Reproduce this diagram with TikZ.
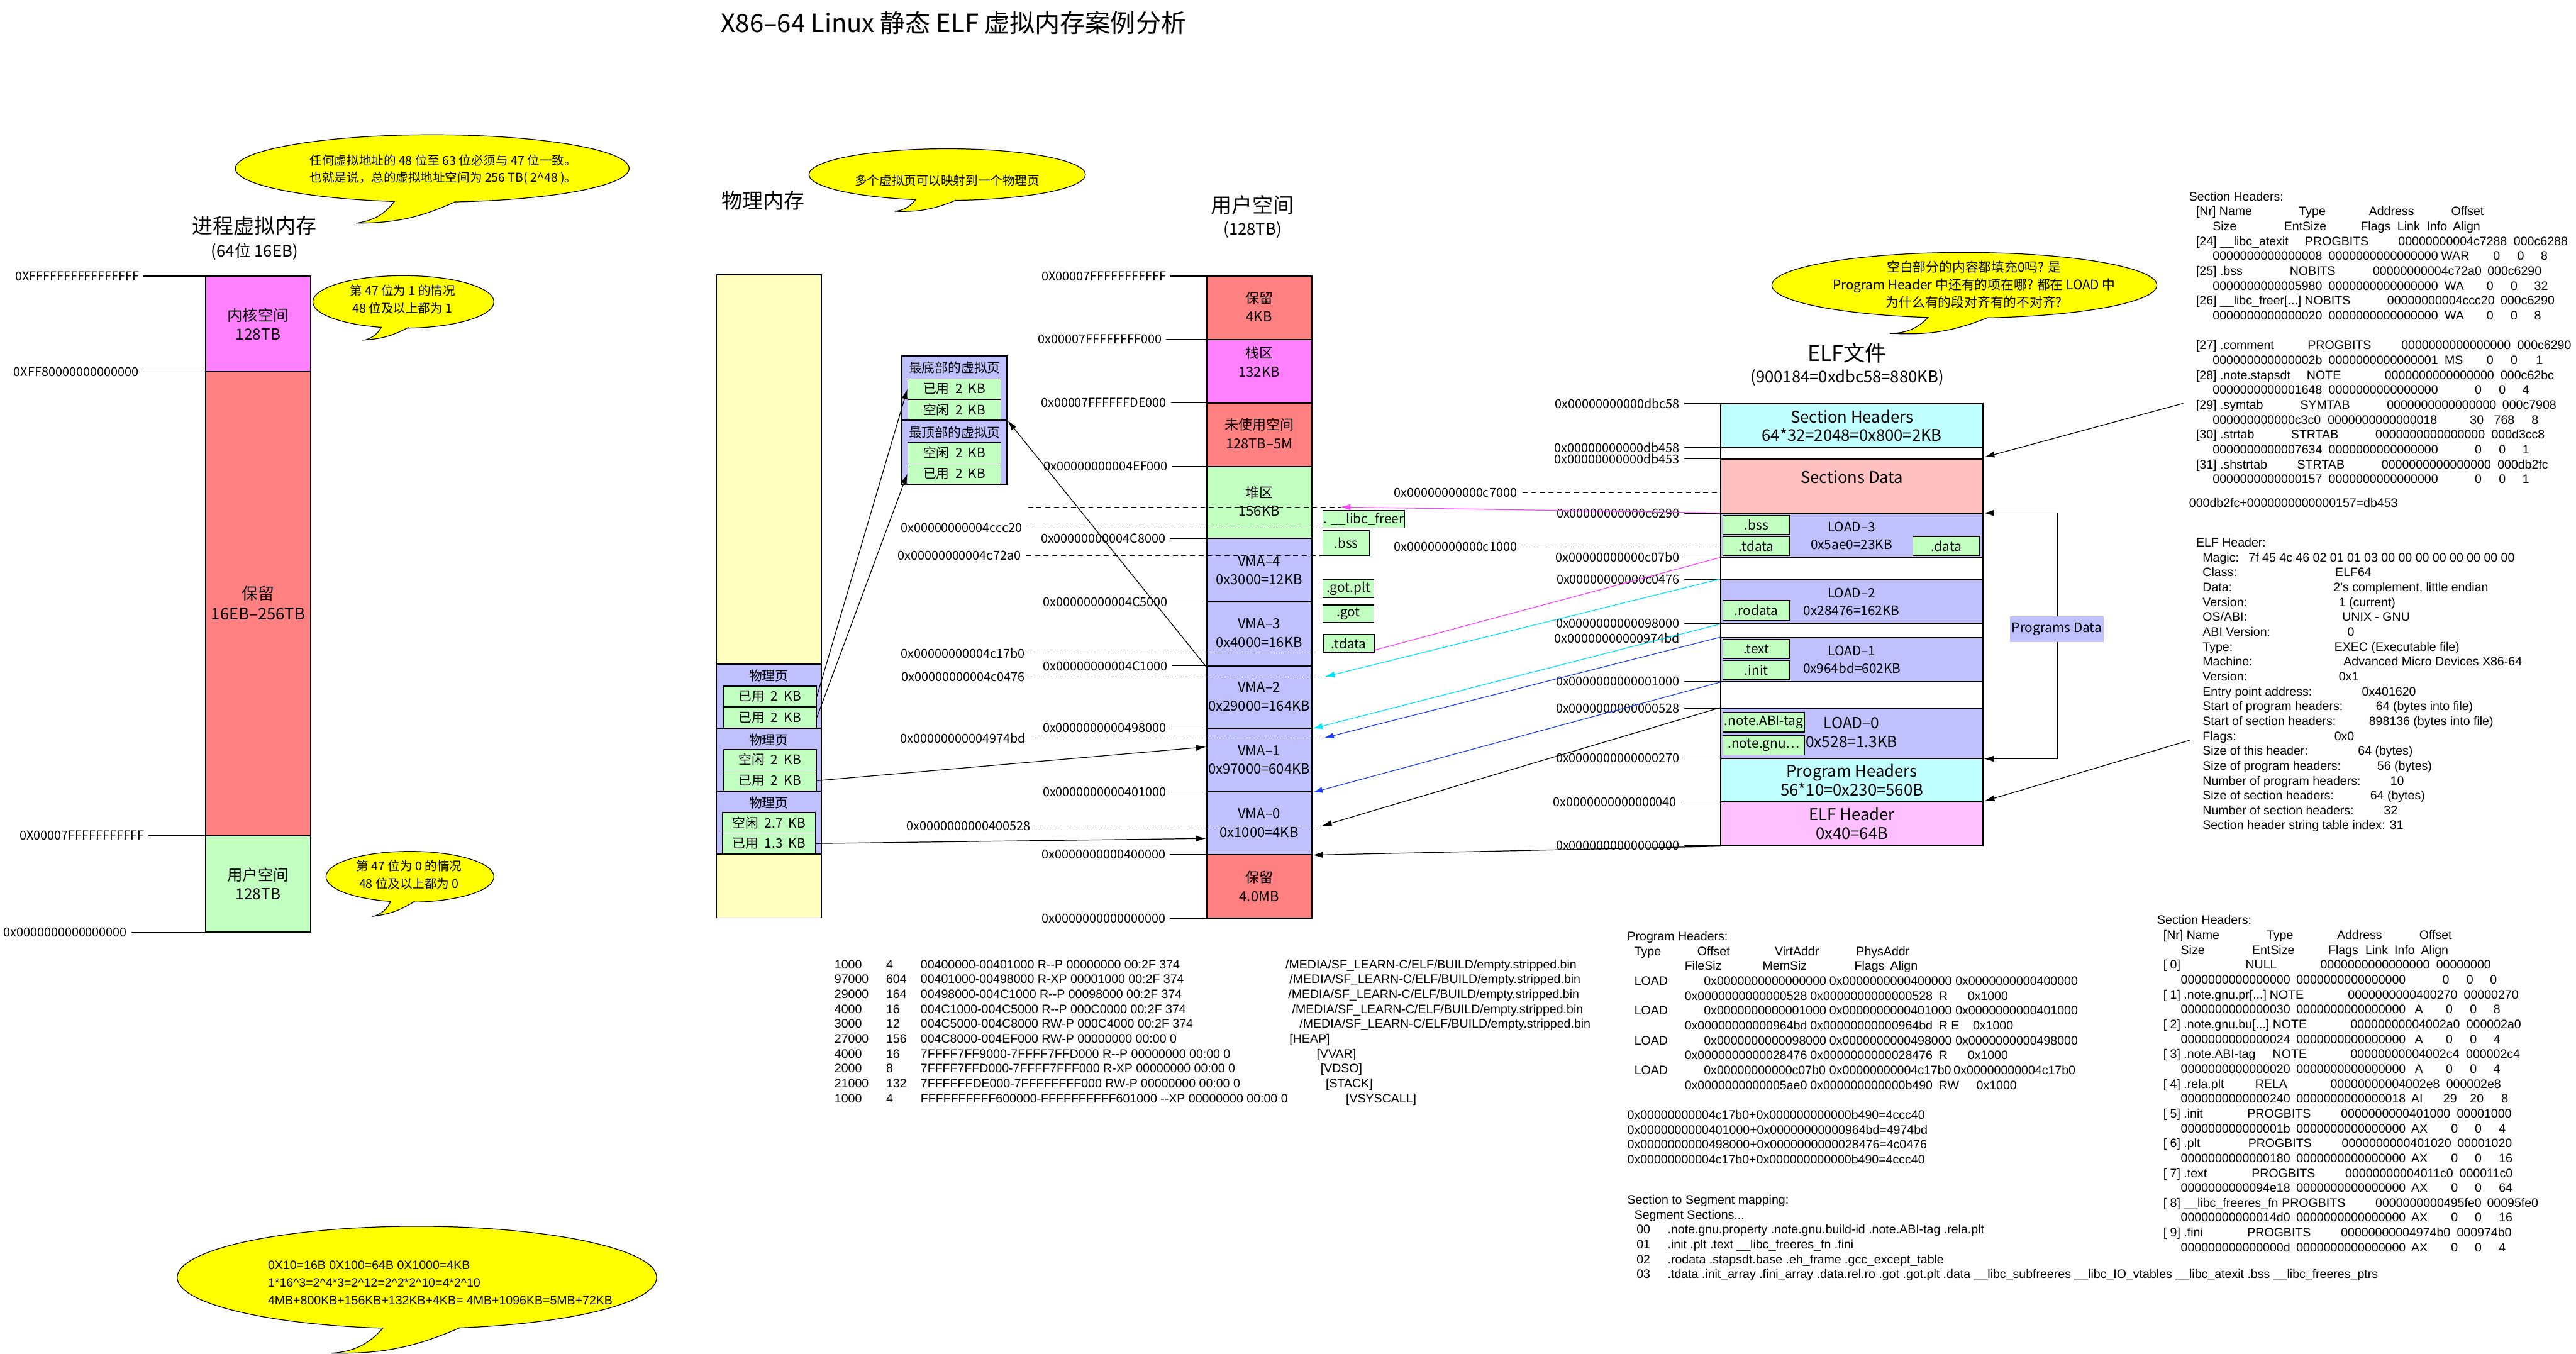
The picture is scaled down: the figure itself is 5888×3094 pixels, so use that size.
\documentclass[tikz,border=0pt]{standalone}
\usepackage{fontspec}
\setmainfont{Noto Sans CJK SC}
\newfontfamily\lib{Liberation Sans}
\usetikzlibrary{arrows.meta,calc}
\newlength\pxu
\setlength\pxu{0.1mm}
\newcommand\atx[2]{\rlap{\hspace*{#1\pxu}#2}}
\newcommand\pln[1]{\hbox{#1}}
\newcommand\fsz[2]{\fontsize{#1}{#2}\selectfont}
\definecolor{cRed}{HTML}{FF8080}
\definecolor{cMag}{HTML}{FF80FF}
\definecolor{cGrn}{HTML}{C0FFC0}
\definecolor{cLav}{HTML}{C0C0FF}
\definecolor{cYel}{HTML}{FFFFC0}
\definecolor{cCyan}{HTML}{C0FFFF}
\definecolor{cPink}{HTML}{FFC0C0}
\definecolor{cPinkM}{HTML}{FFC0FF}
\definecolor{lMag}{HTML}{FF3FFF}
\definecolor{lCyan}{HTML}{00E5FF}
\definecolor{lBlue}{HTML}{1F3FFF}
\definecolor{bubY}{HTML}{FFFF00}
\tikzset{
 box/.style={draw=black, line width=0.8pt},
 sbox/.style={draw=black, line width=0.6pt, fill=cGrn},
 tick/.style={draw=black, line width=0.5pt},
 dsh/.style={draw=black, line width=0.5pt, dash pattern=on 3.2pt off 2.4pt},
 arr/.style={line width=0.5pt, -{Latex[length=6.5pt,width=4pt]}},
 bub/.style={draw=black, line width=0.5pt, fill=bubY},
 alab/.style={anchor=east, inner sep=0pt, font=\fsz{8.1}{10}},
 lab/.style={inner sep=0pt, font=\fsz{8.5}{10}},
 two/.style={inner sep=0pt, align=center, font=\fsz{9}{12}},
}
\newcommand\mkblk[6]{\node[#6, inner sep=0pt, minimum width={(#4-#2)*\pxu}, minimum height={(#5-#3)*\pxu}] (#1) at ({(#2+#4)/2},{(#3+#5)/2}) {};}
\newcommand\mkaddr[5]{\node[alab] (#1) at (#2,#3) {#4};\coordinate (#1e) at (#5,#3);\draw[tick] ([xshift=9\pxu]#1.east) -- (#1e);}
\newcommand\mkdaddr[5]{\node[alab] (#1) at (#2,#3) {#4};\coordinate (#1e) at (#5,#3);\draw[dsh] ([xshift=12\pxu]#1.east) -- (#1e);}
\newcommand\mkbub[6]{%
 \path[bub] #1 ellipse [x radius=#2\pxu, y radius=#3\pxu];
 \fill[bubY] #4 to[bend left=22] #5 to[bend right=12] #6 -- ($#4!0.5!#6+(0,-25)$) -- cycle;
 \draw[line width=0.5pt] #4 to[bend left=22] #5 to[bend right=12] #6;}
\newcommand\mkpanel[4]{\node[anchor=base west, inner sep=0pt] (#1) at (#2,#3) {\begin{minipage}[t]{20pt}\lib\fontsize{8}{9.68}\selectfont\baselineskip=34\pxu\relax #4\end{minipage}};}
\begin{document}
\begin{tikzpicture}[x=0.1mm,y=-0.1mm,font=\fsz{8.5}{10}]
\useasboundingbox (0,0) rectangle (5888,3094);
\fill[white] (0,0) rectangle (5888,3094);

% ---------- title ----------
\node[font=\fsz{16.4}{19}] (title) at (2180,52) {X86–64 Linux 静态 ELF 虚拟内存案例分析};

% ---------- bubbles ----------
\mkbub{(988,385)}{450}{77}{(902,460)}{(814,510)}{(1041,461)}
\node[anchor=west, align=left, font=\fsz{8}{11.1}] (b1t) at (696,388) {任何虚拟地址的 48 位至 63 位必须与 47 位一致。\\也就是说，总的虚拟地址空间为 256 TB( 2\textasciicircum48 )。};
\mkbub{(922,690)}{207}{60}{(872,747)}{(835,777)}{(934,748)}
\node[two, font=\fsz{8}{11.4}] (b2t) at (920,684) {第 47 位为 1 的情况\\48 位及以上都为 1};
\mkbub{(937,2004)}{192}{58}{(893,2060)}{(856,2094)}{(948,2060)}
\node[two, font=\fsz{8}{11.4}] (b3t) at (935,1999) {第 47 位为 0 的情况\\48 位及以上都为 0};
\mkbub{(2165,399)}{316}{59}{(2093,456)}{(2045,483)}{(2184,458)}
\node[lab, font=\fsz{8}{10}] (b4t) at (2165,413) {多个虚拟页可以映射到一个物理页};
\mkbub{(4490,652)}{440}{75}{(4408,725)}{(4320,762)}{(4544,726)}
\node[two, font=\fsz{8.5}{11.4}] (b5t) at (4512,651) {空白部分的内容都填充0吗? 是\\Program Header 中还有的项在哪? 都在 LOAD 中\\为什么有的段对齐有的不对齐?};
\mkbub{(953,2920)}{548}{117}{(875,3036)}{(758,3093)}{(1051,3035)}
\node[anchor=west, align=left, font=\lib\fsz{8}{11.4}] (b6t) at (600,2932) {0X10=16B 0X100=64B 0X1000=4KB\\1*16\textasciicircum3=2\textasciicircum4*3=2\textasciicircum12=2\textasciicircum2*2\textasciicircum10=4*2\textasciicircum10\\4MB+800KB+156KB+132KB+4KB= 4MB+1096KB=5MB+72KB};

% ---------- process virtual memory ----------
\node[font=\fsz{13.5}{16}] (t1) at (582,516) {进程虚拟内存};
\node[font=\fsz{10.5}{12}] (t1s) at (582,575) {(64位 16EB)};
\mkblk{kern}{470}{631}{710}{850}{box,fill=cMag}
\mkblk{resv}{470}{850}{710}{1910}{box,fill=cRed}
\mkblk{usrsp}{470}{1910}{710}{2131}{box,fill=cGrn}
\node[two, font=\fsz{10}{12.5}] (kernt) at (590,741) {内核空间\\128TB};
\node[two, font=\fsz{10.5}{13}] (resvt) at (590,1378) {保留\\16EB–256TB};
\node[two, font=\fsz{10}{12.5}] (usrt) at (590,2020) {用户空间\\128TB};
\mkaddr{la1}{319}{631}{0XFFFFFFFFFFFFFFFF}{470}
\mkaddr{la2}{317}{850}{0XFF80000000000000}{470}
\mkaddr{la3}{330}{1910}{0X00007FFFFFFFFFFF}{470}
\mkaddr{la4}{291}{2131}{0x0000000000000000}{470}

% ---------- physical memory ----------
\node[font=\fsz{13.5}{16}] (t2) at (1745,458) {物理内存};
\mkblk{phys}{1638}{628}{1878}{2098}{box,fill=cYel}
\mkblk{pa}{1637}{1518}{1877}{1664}{box,fill=cLav}
\mkblk{pa1}{1654}{1568}{1866}{1616}{sbox}
\mkblk{pa2}{1654}{1616}{1866}{1664}{sbox}
\mkblk{pb}{1637}{1664}{1877}{1809}{box,fill=cLav}
\mkblk{pb1}{1654}{1713}{1866}{1760}{sbox}
\mkblk{pb2}{1654}{1760}{1866}{1809}{sbox}
\mkblk{pc}{1637}{1809}{1877}{1952}{box,fill=cLav}
\mkblk{pc1}{1652}{1857}{1864}{1904}{sbox}
\mkblk{pc2}{1652}{1904}{1864}{1952}{sbox}
\node[lab] (pah) at (1757,1545) {物理页};
\node[lab] (pbh) at (1757,1691) {物理页};
\node[lab] (pch) at (1757,1835) {物理页};
\node[lab] (pa1t) at (pa1) {已用 \ 2 \ KB};
\node[lab] (pa2t) at (pa2) {已用 \ 2 \ KB};
\node[lab] (pb1t) at (pb1) {空闲 \ 2 \ KB};
\node[lab] (pb2t) at (pb2) {已用 \ 2 \ KB};
\node[lab] (pc1t) at (pc1) {空闲 \ 2.7 \ KB};
\node[lab] (pc2t) at (pc2) {已用 \ 1.3 \ KB};

% ---------- virtual pages block ----------
\mkblk{va}{2062}{814}{2302}{960}{box,fill=cLav}
\mkblk{va1}{2075}{866}{2288}{913}{sbox}
\mkblk{va2}{2075}{913}{2288}{960}{sbox}
\mkblk{vb}{2062}{960}{2302}{1107}{box,fill=cLav}
\mkblk{vb1}{2075}{1011}{2288}{1059}{sbox}
\mkblk{vb2}{2075}{1059}{2288}{1107}{sbox}
\node[lab] (vah) at (2182,841) {最底部的虚拟页};
\node[lab] (vbh) at (2182,988) {最顶部的虚拟页};
\node[lab] (va1t) at (va1) {已用 \ 2 \ KB};
\node[lab] (va2t) at (va2) {空闲 \ 2 \ KB};
\node[lab] (vb1t) at (vb1) {空闲 \ 2 \ KB};
\node[lab] (vb2t) at (vb2) {已用 \ 2 \ KB};

% ---------- user space ----------
\node[font=\fsz{13.5}{16}] (t3) at (2863,469) {用户空间};
\node[font=\fsz{10.5}{12}] (t3s) at (2863,526) {(128TB)};
\mkblk{u1}{2758}{631}{2999}{776}{box,fill=cRed}
\mkblk{u2}{2758}{776}{2999}{921}{box,fill=cMag}
\mkblk{u3}{2758}{921}{2999}{1066}{box,fill=cRed}
\mkblk{u4}{2758}{1066}{2999}{1231}{box,fill=cGrn}
\mkblk{u5}{2758}{1231}{2999}{1376}{box,fill=cLav}
\mkblk{u6}{2758}{1376}{2999}{1522}{box,fill=cLav}
\mkblk{u7}{2758}{1522}{2999}{1664}{box,fill=cLav}
\mkblk{u8}{2758}{1664}{2999}{1810}{box,fill=cLav}
\mkblk{u9}{2758}{1810}{2999}{1953}{box,fill=cLav}
\mkblk{u10}{2758}{1953}{2999}{2099}{box,fill=cRed}
\node[two] (u1t) at (2878,701) {保留\\4KB};
\node[two] (u2t) at (2878,827) {栈区\\132KB};
\node[two] (u3t) at (2878,991) {未使用空间\\128TB–5M};
\node[two] (u4t) at (2878,1146) {堆区\\156KB};
\node[two] (u5t) at (2878,1304) {VMA–4\\0x3000=12KB};
\node[two] (u6t) at (2878,1447) {VMA–3\\0x4000=16KB};
\node[two] (u7t) at (2878,1592) {VMA–2\\0x29000=164KB};
\node[two] (u8t) at (2878,1737) {VMA–1\\0x97000=604KB};
\node[two] (u9t) at (2878,1881) {VMA–0\\0x1000=4KB};
\node[two] (u10t) at (2878,2026) {保留\\4.0MB};
\mkaddr{ua1}{2666}{631}{0X00007FFFFFFFFFFF}{2758}
\mkaddr{ua2}{2656}{776}{0x00007FFFFFFFF000}{2758}
\mkaddr{ua3}{2667}{921}{0x00007FFFFFFDE000}{2758}
\mkaddr{ua4}{2670}{1066}{0x00000000004EF000}{2758}
\mkaddr{ua5}{2665}{1231}{0x00000000004C8000}{2758}
\mkaddr{ua6}{2670}{1376}{0x00000000004C5000}{2758}
\mkaddr{ua7}{2670}{1522}{0x00000000004C1000}{2758}
\mkaddr{ua8}{2667}{1664}{0x0000000000498000}{2758}
\mkaddr{ua9}{2667}{1810}{0x0000000000401000}{2758}
\mkaddr{ua10}{2665}{1953}{0x0000000000400000}{2758}
\mkaddr{ua11}{2665}{2099}{0x0000000000000000}{2758}

% ---------- ELF file ----------
\node[font=\fsz{14}{16}] (t4) at (4222,807) {ELF文件};
\node[font=\fsz{10.5}{12}] (t4s) at (4222,863) {(900184=0xdbc58=880KB)};
\mkblk{elf}{3933}{923}{4533}{1933}{box,fill=white}
\mkblk{e1}{3933}{923}{4533}{1023}{box,fill=cCyan}
\mkblk{e2}{3933}{1049}{4533}{1174}{box,fill=cPink}
\mkblk{e3}{3933}{1174}{4533}{1273}{box,fill=cLav}
\mkblk{e4}{3933}{1325}{4533}{1425}{box,fill=cLav}
\mkblk{e5}{3933}{1458}{4533}{1558}{box,fill=cLav}
\mkblk{e6}{3933}{1619}{4533}{1733}{box,fill=cLav}
\mkblk{e7}{3933}{1733}{4533}{1833}{box,fill=cCyan}
\mkblk{e8}{3933}{1833}{4533}{1933}{box,fill=cPinkM}
\node[two, font=\fsz{10.5}{12.2}] (e1t) at (4233,973) {Section Headers\\64*32=2048=0x800=2KB};
\node[lab, font=\fsz{10.5}{12}] (e2t) at (4233,1091) {Sections Data};
\node[two, font=\fsz{8.5}{11.4}] (e3t) at (4232,1224) {LOAD–3\\0x5ae0=23KB};
\node[two, font=\fsz{8.5}{11.4}] (e4t) at (4232,1375) {LOAD–2\\0x28476=162KB};
\node[two, font=\fsz{8.5}{11.4}] (e5t) at (4233,1508) {LOAD–1\\0x964bd=602KB};
\node[two, font=\fsz{10}{12.5}] (e6t) at (4232,1674) {LOAD–0\\0x528=1.3KB};
\node[two, font=\fsz{10.5}{12.2}] (e7t) at (4233,1783) {Program Headers\\56*10=0x230=560B};
\node[two, font=\fsz{10.5}{12.2}] (e8t) at (4233,1882) {ELF Header\\0x40=64B};
\mkblk{g1}{3938}{1178}{4091}{1222}{sbox}
\mkblk{g2}{3938}{1226}{4091}{1270}{sbox}
\mkblk{g3}{4372}{1226}{4525}{1270}{sbox}
\mkblk{g4}{3938}{1373}{4091}{1418}{sbox}
\mkblk{g5}{3938}{1462}{4091}{1505}{sbox}
\mkblk{g6}{3938}{1510}{4091}{1554}{sbox}
\mkblk{g7}{3938}{1629}{4125}{1673}{sbox}
\mkblk{g8}{3938}{1681}{4125}{1726}{sbox}
\node[lab] (g1t) at (g1) {.bss};
\node[lab] (g2t) at (g2) {.tdata};
\node[lab] (g3t) at (g3) {.data};
\node[lab] (g4t) at (g4) {.rodata};
\node[lab] (g5t) at (g5) {.text};
\node[lab] (g6t) at (g6) {.init};
\node[lab] (g7t) at (g7) {.note.ABI-tag};
\node[lab] (g8t) at (g8) {.note.gnu…};
\mkaddr{ea1}{3840}{923}{0x00000000000dbc58}{3933}
\mkaddr{ea2}{3840}{1023}{0x00000000000db458}{3933}
\mkaddr{ea3}{3840}{1049}{0x00000000000db453}{3933}
\mkaddr{ea4}{3840}{1174}{0x00000000000c6290}{3933}
\mkaddr{ea5}{3840}{1273}{0x00000000000c07b0}{3933}
\mkaddr{ea6}{3840}{1325}{0x00000000000c0476}{3933}
\mkaddr{ea7}{3840}{1425}{0x0000000000098000}{3933}
\mkaddr{ea8}{3840}{1458}{0x00000000000974bd}{3933}
\mkaddr{ea9}{3840}{1558}{0x0000000000001000}{3933}
\mkaddr{ea10}{3840}{1619}{0x0000000000000528}{3933}
\mkaddr{ea11}{3840}{1733}{0x0000000000000270}{3933}
\mkaddr{ea12}{3833}{1833}{0x0000000000000040}{3933}
\mkaddr{ea13}{3840}{1933}{0x0000000000000000}{3933}
\mkdaddr{ec7}{3468}{1126}{0x00000000000c7000}{3933}
\mkdaddr{ec1}{3468}{1250}{0x00000000000c1000}{3933}

% Programs Data bracket
\draw[line width=0.6pt, {Latex[length=6.5pt,width=4pt]}-{Latex[length=6.5pt,width=4pt]}] (e3.north east) -- ++(168,0) |- (e6.south east);
\node[fill=cLav, inner sep=0pt, minimum width=215\pxu, minimum height=59\pxu, font=\fsz{8.5}{10}] (pd) at (4701,1438) {Programs Data};

% ---------- dashed user-space address lines ----------
\coordinate (dq0s) at (2350,1159);
\coordinate (dq0e) at (3064,1159);
\draw[dsh] (dq0s) -- (dq0e);
\mkdaddr{d1}{2337}{1207}{0x00000000004ccc20}{3024}
\mkdaddr{d2}{2334}{1270}{0x00000000004c72a0}{3024}
\mkdaddr{d3}{2343}{1493}{0x00000000004c17b0}{3116}
\mkdaddr{d4}{2343}{1547}{0x00000000004c0476}{3028}
\mkdaddr{d5}{2345}{1687}{0x00000000004974bd}{3026}
\mkdaddr{d6}{2356}{1888}{0x0000000000400528}{3021}

% ---------- ELF -> user space arrows ----------
\draw[arr, lMag] (e3.north west) -- (dq0e);
\draw[arr, lMag] (e3.south west) -- (d3e);
\draw[arr, lCyan] (e4.north west) -- (d4e);
\draw[arr, lCyan] (e4.south west) -- (u7.south east);
\draw[arr, lBlue] (e5.north west) -- (d5e);
\draw[arr, lBlue] (e5.south west) -- (u8.south east);
\draw[arr] (e6.north west) -- (d6e);
\draw[arr] (elf.south west) -- (u9.south east);

% ---------- section boxes beside user space ----------
\mkblk{s1}{3024}{1167}{3211}{1207}{sbox}
\mkblk{s2}{3024}{1213}{3130}{1270}{sbox}
\mkblk{s3}{3024}{1325}{3140}{1366}{sbox}
\mkblk{s4}{3024}{1383}{3140}{1423}{sbox}
\mkblk{s5}{3025}{1450}{3141}{1491}{sbox}
\node[lab] (s1t) at (s1) {. \_\_libc\_freer};
\node[lab] (s2t) at (s2) {.bss};
\node[lab] (s3t) at (s3) {.got.plt};
\node[lab] (s4t) at (s4) {.got};
\node[lab] (s5t) at (s5) {.tdata};

% ---------- page mapping arrows ----------
\draw[arr] (pa1.east) -- (va1.west);
\draw[arr] (pa2.east) -- (vb2.west);
\draw[arr] (u6.south west) -- (va.south east);
\coordinate (u8in) at ($(u8.north west)!0.3!(u8.south west)$);
\coordinate (u9in) at ($(u9.north west)!0.74!(u9.south west)$);
\draw[arr] (pb2.east) -- (u8in);
\draw[arr] (pc2.east) -- (u9in);

% ---------- panel arrows ----------
\coordinate (shA) at (4990,922);
\coordinate (shB) at (4536,1045);
\coordinate (ehA) at (5005,1692);
\coordinate (ehB) at (4536,1831);
\draw[arr] (shA) -- (shB);
\draw[arr] (ehA) -- (ehB);

% ---------- text panels ----------
\mkpanel{shtop}{5003}{459}{%
\pln{Section Headers:}
\pln{\atx{16}{[Nr] Name}\atx{251}{Type}\atx{411}{Address}\atx{599}{Offset}}
\pln{\atx{54}{Size}\atx{217}{EntSize}\atx{392}{Flags}\atx{476}{Link}\atx{543}{Info}\atx{603}{Align}}
\pln{\atx{16}{[24] \_\_libc\_atexit}\atx{265}{PROGBITS}\atx{478}{00000000004c7288}\atx{742}{000c6288}}
\pln{\atx{54}{0000000000000008}\atx{319}{0000000000000000}\atx{576}{WAR}\atx{695}{0}\atx{750}{0}\atx{804}{8}}
\pln{\atx{16}{[25] .bss}\atx{230}{NOBITS}\atx{420}{00000000004c72a0}\atx{682}{000c6290}}
\pln{\atx{54}{0000000000005980}\atx{319}{0000000000000000}\atx{584}{WA}\atx{680}{0}\atx{735}{0}\atx{789}{32}}
\pln{\atx{16}{[26] \_\_libc\_freer[...]}\atx{264}{NOBITS}\atx{453}{00000000004ccc20}\atx{712}{000c6290}}
\pln{\atx{54}{0000000000000020}\atx{319}{0000000000000000}\atx{584}{WA}\atx{680}{0}\atx{735}{0}\atx{789}{8}}
\vskip 34\pxu
\pln{\atx{16}{[27] .comment}\atx{271}{PROGBITS}\atx{485}{0000000000000000}\atx{750}{000c6290}}
\pln{\atx{54}{000000000000002b}\atx{319}{0000000000000001}\atx{584}{MS}\atx{680}{0}\atx{735}{0}\atx{793}{1}}
\pln{\atx{16}{[28] .note.stapsdt}\atx{269}{NOTE}\atx{447}{0000000000000000}\atx{712}{000c62bc}}
\pln{\atx{54}{0000000000001648}\atx{319}{0000000000000000}\atx{653}{0}\atx{708}{0}\atx{762}{4}}
\pln{\atx{16}{[29] .symtab}\atx{254}{SYMTAB}\atx{452}{0000000000000000}\atx{716}{000c7908}}
\pln{\atx{54}{000000000000c3c0}\atx{317}{0000000000000018}\atx{642}{30}\atx{697}{768}\atx{783}{8}}
\pln{\atx{16}{[30] .strtab}\atx{233}{STRTAB}\atx{426}{0000000000000000}\atx{691}{000d3cc8}}
\pln{\atx{54}{0000000000007634}\atx{319}{0000000000000000}\atx{653}{0}\atx{708}{0}\atx{762}{1}}
\pln{\atx{16}{[31] .shstrtab}\atx{247}{STRTAB}\atx{440}{0000000000000000}\atx{705}{000db2fc}}
\pln{\atx{54}{0000000000000157}\atx{319}{0000000000000000}\atx{653}{0}\atx{708}{0}\atx{762}{1}}
\vskip 20\pxu
\pln{000db2fc+0000000000000157=db453}}

\mkpanel{ehpanel}{5019}{1250}{%
\pln{ELF Header:}
\pln{\atx{15}{Magic:}\atx{120}{7f 45 4c 46 02 01 01 03 00 00 00 00 00 00 00 00}}
\pln{\atx{15}{Class:}\atx{318}{ELF64}}
\pln{\atx{15}{Data:}\atx{314}{2's complement, little endian}}
\pln{\atx{15}{Version:}\atx{326}{1 (current)}}
\pln{\atx{15}{OS/ABI:}\atx{334}{UNIX - GNU}}
\pln{\atx{15}{ABI Version:}\atx{346}{0}}
\pln{\atx{15}{Type:}\atx{316}{EXEC (Executable file)}}
\pln{\atx{15}{Machine:}\atx{337}{Advanced Micro Devices X86-64}}
\pln{\atx{15}{Version:}\atx{326}{0x1}}
\pln{\atx{15}{Entry point address:}\atx{379}{0x401620}}
\pln{\atx{15}{Start of program headers:}\atx{411}{64 (bytes into file)}}
\pln{\atx{15}{Start of section headers:}\atx{395}{898136 (bytes into file)}}
\pln{\atx{15}{Flags:}\atx{316}{0x0}}
\pln{\atx{15}{Size of this header:}\atx{370}{64 (bytes)}}
\pln{\atx{15}{Size of program headers:}\atx{414}{56 (bytes)}}
\pln{\atx{15}{Number of program headers:}\atx{444}{10}}
\pln{\atx{15}{Size of section headers:}\atx{398}{64 (bytes)}}
\pln{\atx{15}{Number of section headers:}\atx{429}{32}}
\pln{\atx{15}{Section header string table index: 31}}}

\mkpanel{phpanel}{3719}{2150}{%
\pln{Program Headers:}
\pln{\atx{16}{Type}\atx{160}{Offset}\atx{337}{VirtAddr}\atx{523}{PhysAddr}}
\pln{\atx{131}{FileSiz}\atx{309}{MemSiz}\atx{519}{Flags}\atx{601}{Align}}
\pln{\atx{16}{LOAD}\atx{175}{0x0000000000000000}\atx{462}{0x0000000000400000}\atx{750}{0x0000000000400000}}
\pln{\atx{131}{0x0000000000000528}\atx{418}{0x0000000000000528}\atx{712}{R}\atx{778}{0x1000}}
\pln{\atx{16}{LOAD}\atx{175}{0x0000000000001000}\atx{462}{0x0000000000401000}\atx{750}{0x0000000000401000}}
\pln{\atx{131}{0x00000000000964bd}\atx{418}{0x00000000000964bd}\atx{712}{R E}\atx{790}{0x1000}}
\pln{\atx{16}{LOAD}\atx{175}{0x0000000000098000}\atx{462}{0x0000000000498000}\atx{750}{0x0000000000498000}}
\pln{\atx{131}{0x0000000000028476}\atx{418}{0x0000000000028476}\atx{712}{R}\atx{778}{0x1000}}
\pln{\atx{16}{LOAD}\atx{175}{0x00000000000c07b0}\atx{462}{0x00000000004c17b0}\atx{746}{0x00000000004c17b0}}
\pln{\atx{131}{0x0000000000005ae0}\atx{418}{0x000000000000b490}\atx{712}{RW}\atx{798}{0x1000}}
\vskip 34\pxu
\pln{0x00000000004c17b0+0x000000000000b490=4ccc40}
\pln{0x0000000000401000+0x00000000000964bd=4974bd}
\pln{0x0000000000498000+0x0000000000028476=4c0476}
\pln{0x00000000004c17b0+0x000000000000b490=4ccc40}
\vskip 58\pxu
\pln{Section to Segment mapping:}
\pln{\atx{16}{Segment Sections...}}
\pln{\atx{21}{00}\atx{92}{.note.gnu.property .note.gnu.build-id .note.ABI-tag .rela.plt}}
\pln{\atx{21}{01}\atx{92}{.init .plt .text \_\_libc\_freeres\_fn .fini}}
\pln{\atx{21}{02}\atx{92}{.rodata .stapsdt.base .eh\_frame .gcc\_except\_table}}
\pln{\atx{21}{03}\atx{92}{.tdata .init\_array .fini\_array .data.rel.ro .got .got.plt .data \_\_libc\_subfreeres \_\_libc\_IO\_vtables \_\_libc\_atexit .bss \_\_libc\_freeres\_ptrs}}}

\mkpanel{shbot}{4930}{2113}{%
\pln{Section Headers:}
\pln{\atx{14}{[Nr] Name}\atx{250}{Type}\atx{411}{Address}\atx{599}{Offset}}
\pln{\atx{54}{Size}\atx{217}{EntSize}\atx{391}{Flags}\atx{476}{Link}\atx{542}{Info}\atx{603}{Align}}
\pln{\atx{14}{[ 0]}\atx{202}{NULL}\atx{373}{0000000000000000}\atx{638}{00000000}}
\pln{\atx{54}{0000000000000000}\atx{318}{0000000000000000}\atx{652}{0}\atx{707}{0}\atx{761}{0}}
\pln{\atx{14}{[ 1] .note.gnu.pr[...]}\atx{257}{NOTE}\atx{436}{0000000000400270}\atx{701}{00000270}}
\pln{\atx{54}{0000000000000030}\atx{318}{0000000000000000}\atx{589}{A}\atx{660}{0}\atx{715}{0}\atx{769}{8}}
\pln{\atx{14}{[ 2] .note.gnu.bu[...]}\atx{264}{NOTE}\atx{442}{00000000004002a0}\atx{707}{000002a0}}
\pln{\atx{54}{0000000000000024}\atx{318}{0000000000000000}\atx{589}{A}\atx{660}{0}\atx{715}{0}\atx{769}{4}}
\pln{\atx{14}{[ 3] .note.ABI-tag}\atx{264}{NOTE}\atx{442}{00000000004002c4}\atx{706}{000002c4}}
\pln{\atx{54}{0000000000000020}\atx{318}{0000000000000000}\atx{589}{A}\atx{660}{0}\atx{715}{0}\atx{769}{4}}
\pln{\atx{14}{[ 4] .rela.plt}\atx{224}{RELA}\atx{396}{00000000004002e8}\atx{661}{000002e8}}
\pln{\atx{54}{0000000000000240}\atx{318}{0000000000000018}\atx{581}{AI}\atx{654}{29}\atx{715}{20}\atx{787}{8}}
\pln{\atx{14}{[ 5] .init}\atx{206}{PROGBITS}\atx{420}{0000000000401000}\atx{685}{00001000}}
\pln{\atx{54}{000000000000001b}\atx{318}{0000000000000000}\atx{581}{AX}\atx{672}{0}\atx{726}{0}\atx{781}{4}}
\pln{\atx{14}{[ 6] .plt}\atx{208}{PROGBITS}\atx{422}{0000000000401020}\atx{686}{00001020}}
\pln{\atx{54}{0000000000000180}\atx{318}{0000000000000000}\atx{581}{AX}\atx{672}{0}\atx{726}{0}\atx{781}{16}}
\pln{\atx{14}{[ 7] .text}\atx{216}{PROGBITS}\atx{430}{00000000004011c0}\atx{691}{000011c0}}
\pln{\atx{54}{0000000000094e18}\atx{318}{0000000000000000}\atx{581}{AX}\atx{672}{0}\atx{726}{0}\atx{781}{64}}
\pln{\atx{14}{[ 8] \_\_libc\_freeres\_fn}\atx{285}{PROGBITS}\atx{499}{0000000000495fe0}\atx{754}{00095fe0}}
\pln{\atx{54}{00000000000014d0}\atx{318}{0000000000000000}\atx{581}{AX}\atx{672}{0}\atx{726}{0}\atx{781}{16}}
\pln{\atx{14}{[ 9] .fini}\atx{206}{PROGBITS}\atx{420}{00000000004974b0}\atx{685}{000974b0}}
\pln{\atx{54}{000000000000000d}\atx{318}{0000000000000000}\atx{581}{AX}\atx{672}{0}\atx{726}{0}\atx{781}{4}}}

\mkpanel{maps}{1905}{2214}{%
\pln{\atx{0}{1000}\atx{118}{4}\atx{197}{00400000-00401000 R-{}-P 00000000 00:2F 374}\atx{1031}{/MEDIA/SF\_LEARN-C/ELF/BUILD/empty.stripped.bin}}
\pln{\atx{0}{97000}\atx{118}{604}\atx{197}{00401000-00498000 R-XP 00001000 00:2F 374}\atx{1040}{/MEDIA/SF\_LEARN-C/ELF/BUILD/empty.stripped.bin}}
\pln{\atx{0}{29000}\atx{118}{164}\atx{197}{00498000-004C1000 R-{}-P 00098000 00:2F 374}\atx{1037}{/MEDIA/SF\_LEARN-C/ELF/BUILD/empty.stripped.bin}}
\pln{\atx{0}{4000}\atx{118}{16}\atx{197}{004C1000-004C5000 R-{}-P 000C0000 00:2F 374}\atx{1046}{/MEDIA/SF\_LEARN-C/ELF/BUILD/empty.stripped.bin}}
\pln{\atx{0}{3000}\atx{118}{12}\atx{197}{004C5000-004C8000 RW-P 000C4000 00:2F 374}\atx{1063}{/MEDIA/SF\_LEARN-C/ELF/BUILD/empty.stripped.bin}}
\pln{\atx{0}{27000}\atx{118}{156}\atx{197}{004C8000-004EF000 RW-P 00000000 00:00 0}\atx{1040}{[HEAP]}}
\pln{\atx{0}{4000}\atx{118}{16}\atx{197}{7FFFF7FF9000-7FFFF7FFD000 R-{}-P 00000000 00:00 0}\atx{1102}{[VVAR]}}
\pln{\atx{0}{2000}\atx{118}{8}\atx{197}{7FFFF7FFD000-7FFFF7FFF000 R-XP 00000000 00:00 0}\atx{1111}{[VDSO]}}
\pln{\atx{0}{21000}\atx{118}{132}\atx{197}{7FFFFFFDE000-7FFFFFFFF000 RW-P 00000000 00:00 0}\atx{1123}{[STACK]}}
\pln{\atx{0}{1000}\atx{118}{4}\atx{197}{FFFFFFFFFF600000-FFFFFFFFFF601000 -{}-XP 00000000 00:00 0}\atx{1169}{[VSYSCALL]}}}

\end{tikzpicture}
\end{document}
